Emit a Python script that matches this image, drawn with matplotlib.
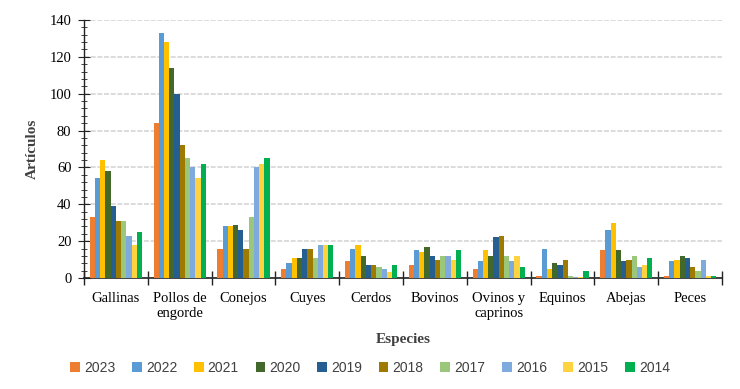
import matplotlib
matplotlib.use("Agg")
import matplotlib.pyplot as plt
import numpy as np
from matplotlib.ticker import MultipleLocator, FixedLocator

categories = ["Gallinas", "Pollos de\nengorde", "Conejos", "Cuyes", "Cerdos", "Bovinos",
              "Ovinos y\ncaprinos", "Equinos", "Abejas", "Peces"]
years = ["2023", "2022", "2021", "2020", "2019", "2018", "2017", "2016", "2015", "2014"]

v2023 = [33, 84, 16, 5, 9, 7, 5, 1, 15, 1]
v2022 = [54, 133, 28, 8, 16, 15, 9, 16, 26, 9]
v2021 = [64, 128, 28, 11, 18, 14, 15, 5, 30, 10]
v2020 = [58, 114, 29, 11, 12, 17, 12, 8, 15, 12]
v2019 = [39, 100, 26, 16, 7, 12, 22, 7, 9, 11]
v2018 = [31, 72, 16, 16, 7, 10, 23, 10, 10, 6]
v2017 = [31, 65, 33, 11, 6, 12, 12, 1, 12, 4]
v2016 = [23, 60, 60, 18, 5, 12, 9, 0.5, 6, 10]
v2015 = [18, 54, 62, 18, 3, 10, 12, 0.5, 7, 1]
v2014 = [25, 62, 65, 18, 7, 15, 6, 4, 11, 1]

series = [v2023, v2022, v2021, v2020, v2019, v2018, v2017, v2016, v2015, v2014]
colors = ["#ED7D31", "#5B9BD5", "#FFC000", "#43682B", "#255E91",
          "#9E7B00", "#9BC77A", "#7FAADD", "#FFD23F", "#00B050"]

fig = plt.figure(figsize=(7.4, 3.89), dpi=100)
ax = fig.add_axes([0.1135, 0.2853, 0.8622, 0.6633])

n = len(series)
group_w = 0.82
bw = group_w / n
x = np.arange(len(categories))
for i, (vals, c, y) in enumerate(zip(series, colors, years)):
    ax.bar(x - group_w / 2 + bw * (i + 0.5), vals, width=bw, color=c, label=y, zorder=3)

ax.set_xlim(-0.5, len(categories) - 0.5)
ax.set_ylim(0, 140)
ax.yaxis.set_major_locator(MultipleLocator(20))
ax.yaxis.set_minor_locator(MultipleLocator(4))
ax.grid(axis="y", which="major", color="#D6D6D6", linestyle=(0, (3, 1)), linewidth=1.2, zorder=0)

for s in ["top", "right"]:
    ax.spines[s].set_visible(False)
ax.spines["left"].set_color("#222222")
ax.spines["bottom"].set_color("#222222")
ax.spines["left"].set_linewidth(1.0)
ax.spines["bottom"].set_linewidth(1.2)

ax.set_xticks(x)
ax.set_xticklabels(categories, fontsize=10.5, family="Liberation Serif", linespacing=1.25)
ax.xaxis.set_minor_locator(FixedLocator(np.arange(-0.5, len(categories), 1.0)))
ax.tick_params(axis="x", which="major", length=3, direction="in", color="#222222", pad=10)
ax.tick_params(axis="x", which="minor", length=10, direction="inout", color="#222222", width=1.0)
ax.tick_params(axis="y", which="major", length=8, direction="inout", color="#222222", labelsize=10.5, pad=5)
ax.tick_params(axis="y", which="minor", length=5, direction="inout", color="#222222")
for lbl in ax.get_yticklabels():
    lbl.set_family("Liberation Serif")
for lbl in ax.get_xticklabels():
    lbl.set_verticalalignment("top")

ax.set_ylabel("Artículos", fontsize=11, fontweight="bold", family="Liberation Serif", color="#404040", labelpad=8)
ax.set_xlabel("Especies", fontsize=11, fontweight="bold", family="Liberation Serif", color="#404040", labelpad=9)

leg = fig.legend(loc="center", bbox_to_anchor=(0.5, 0.055), ncol=10, frameon=False,
                 handlelength=0.7, handleheight=0.7, handletextpad=0.3,
                 columnspacing=1.2, prop={"family": "Liberation Sans", "size": 10})
for t in leg.get_texts():
    t.set_color("#404040")

fig.savefig("out.png", dpi=100)
